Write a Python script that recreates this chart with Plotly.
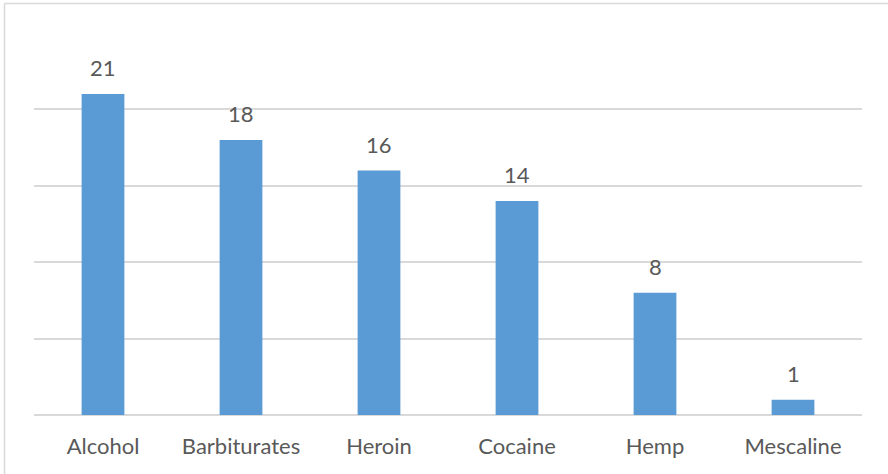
import plotly.graph_objects as go

# Substances and counts
substances = ["Alcohol", "Barbiturates", "Heroin", "Cocaine", "Hemp", "Mescaline"]
counts = [21, 18, 16, 14, 8, 1]

W, H = 888, 474
ML, MR, MT, MB = 34, 26, 33, 59
FONT = "Lato, Open Sans, sans-serif"
FSIZE = 22
TEXT_COLOR = "#595959"

fig = go.Figure(
    go.Bar(
        x=substances,
        y=counts,
        marker=dict(color="#5B9BD5", line=dict(width=0)),
        hoverinfo="x+y",
    )
)

# Value labels above each bar
for s, c in zip(substances, counts):
    fig.add_annotation(
        x=s, y=c, text=str(c), showarrow=False,
        yanchor="bottom", yshift=11,
        font=dict(family=FONT, size=FSIZE, color=TEXT_COLOR),
    )

# Light frame around the chart area (top and left edges)
pw, ph = W - ML - MR, H - MT - MB
x0 = (4.5 - ML) / pw
y0 = 1 + (MT - 3.5) / ph
frame = dict(type="line", xref="paper", yref="paper",
             line=dict(color="#D9D9D9", width=1.5))
fig.add_shape(**frame, x0=x0, y0=y0, x1=(W + 10 - ML) / pw, y1=y0)
fig.add_shape(**frame, x0=x0, y0=y0, x1=x0, y1=-(MB + 10) / ph)

fig.update_layout(
    width=W, height=H,
    margin=dict(l=ML, r=MR, t=MT, b=MB),
    paper_bgcolor="white", plot_bgcolor="white",
    bargap=0.69,
    showlegend=False,
    font=dict(family=FONT, size=FSIZE, color=TEXT_COLOR),
    xaxis=dict(
        showgrid=False, ticks="", showline=False,
        ticklabelstandoff=16,
        tickfont=dict(family=FONT, size=FSIZE, color=TEXT_COLOR),
    ),
    yaxis=dict(
        range=[0, 25], dtick=5, showticklabels=False,
        showgrid=True, gridcolor="#D9D9D9", gridwidth=1.5,
        zeroline=True, zerolinecolor="#D9D9D9", zerolinewidth=1.5,
        showline=False,
    ),
)

fig.write_html("out.html")
